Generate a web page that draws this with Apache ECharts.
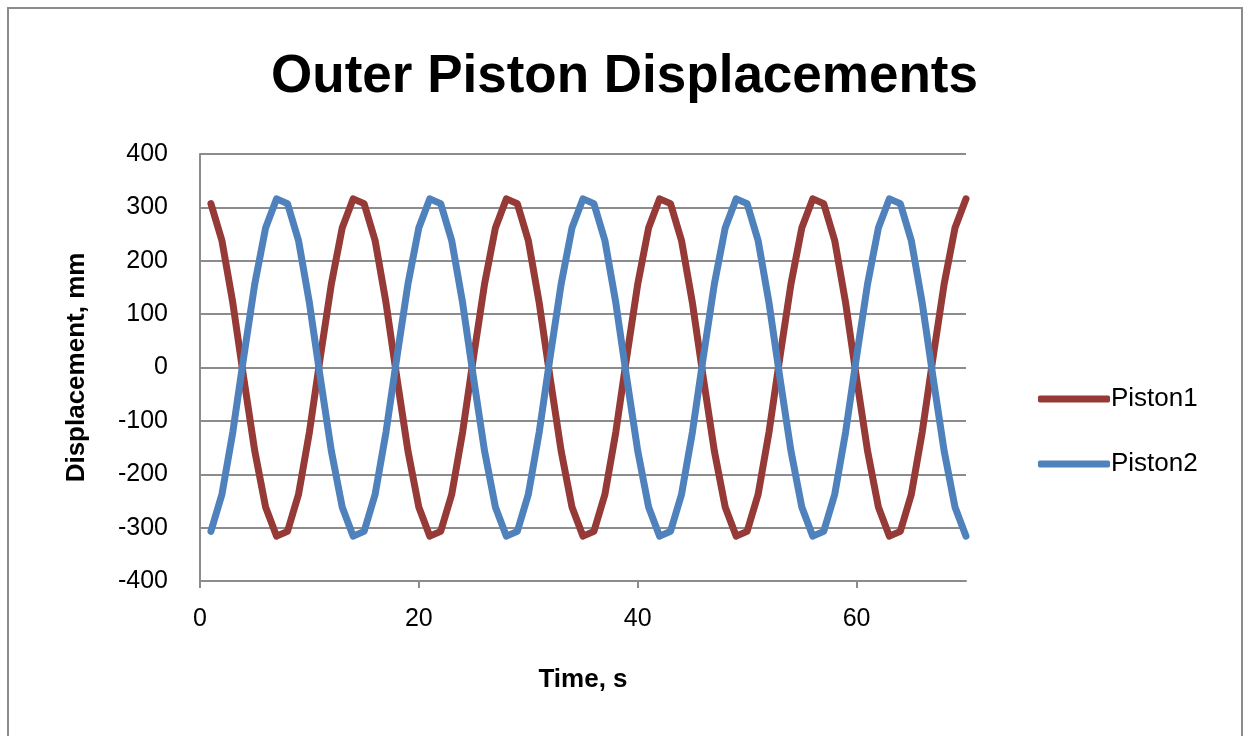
<!DOCTYPE html>
<html>
<head>
<meta charset="utf-8">
<title>Outer Piston Displacements</title>
<script src="https://cdn.jsdelivr.net/npm/echarts@6/dist/echarts.min.js"></script>
<style>
  html, body { margin: 0; padding: 0; background: #fff; }
  #chart { width: 1249px; height: 736px; }
</style>
</head>
<body>
<div id="chart"></div>
<script>
// time, s
const time = [
  1, 2, 3, 4, 5, 6, 7, 8, 9, 10, 11, 12, 13, 14,
  15, 16, 17, 18, 19, 20, 21, 22, 23, 24, 25, 26, 27, 28,
  29, 30, 31, 32, 33, 34, 35, 36, 37, 38, 39, 40, 41, 42,
  43, 44, 45, 46, 47, 48, 49, 50, 51, 52, 53, 54, 55, 56,
  57, 58, 59, 60, 61, 62, 63, 64, 65, 66, 67, 68, 69, 70
]
// displacement, mm
const piston1 = [
  307, 238, 121, -20, -156, -262, -316, -307, -238, -121, 20, 156, 262, 316,
  307, 238, 121, -20, -156, -262, -316, -307, -238, -121, 20, 156, 262, 316,
  307, 238, 121, -20, -156, -262, -316, -307, -238, -121, 20, 156, 262, 316,
  307, 238, 121, -20, -156, -262, -316, -307, -238, -121, 20, 156, 262, 316,
  307, 238, 121, -20, -156, -262, -316, -307, -238, -121, 20, 156, 262, 316
]
const piston2 = [
  -307, -238, -121, 20, 156, 262, 316, 307, 238, 121, -20, -156, -262, -316,
  -307, -238, -121, 20, 156, 262, 316, 307, 238, 121, -20, -156, -262, -316,
  -307, -238, -121, 20, 156, 262, 316, 307, 238, 121, -20, -156, -262, -316,
  -307, -238, -121, 20, 156, 262, 316, 307, 238, 121, -20, -156, -262, -316,
  -307, -238, -121, 20, 156, 262, 316, 307, 238, 121, -20, -156, -262, -316
]
const xTicks = [0, 20, 40, 60]

const font = '"Liberation Sans", Arial, sans-serif'
const gray = '#8c8c8c'

var myChart = echarts.init(document.getElementById('chart'))
myChart.setOption({
  backgroundColor: '#fff',
  animation: false,
  graphic: [
    {
      type: 'rect',
      shape: { x: 8, y: 8, width: 1234, height: 800 },
      style: { fill: 'none', stroke: gray, lineWidth: 2 }
    }
  ],
  title: {
    text: 'Outer Piston Displacements',
    left: 'center',
    top: 46,
    textStyle: { fontFamily: font, fontWeight: 'bold', fontSize: 53, color: '#000' }
  },
  legend: {
    orient: 'vertical',
    left: 1033,
    top: 381,
    icon: 'roundRect',
    itemWidth: 72,
    itemHeight: 7,
    itemGap: 39,
    textStyle: { fontFamily: font, fontSize: 26, color: '#000', padding: [0, 0, 0, -4] },
    data: ['Piston1', 'Piston2']
  },
  grid: { left: 200, right: 283, top: 154, bottom: 155 },
  xAxis: {
    type: 'value',
    min: 0,
    max: 70,
    interval: 20,
    name: 'Time, s',
    nameLocation: 'middle',
    nameGap: 86,
    nameTextStyle: { fontFamily: font, fontWeight: 'bold', fontSize: 26, color: '#000' },
    axisLine: { show: true, onZero: false, lineStyle: { color: gray, width: 2 } },
    axisTick: { show: true, length: 7, lineStyle: { color: gray, width: 2 }, customValues: xTicks },
    axisLabel: { fontFamily: font, fontSize: 25, color: '#000', margin: 26, customValues: xTicks },
    splitLine: { show: false }
  },
  yAxis: {
    type: 'value',
    min: -400,
    max: 400,
    interval: 100,
    name: 'Displacement, mm',
    nameLocation: 'middle',
    nameGap: 110,
    nameTextStyle: { fontFamily: font, fontWeight: 'bold', fontSize: 26, color: '#000' },
    axisLine: { show: true, onZero: false, lineStyle: { color: gray, width: 2 } },
    axisTick: { show: false },
    axisLabel: { fontFamily: font, fontSize: 25, color: '#000', margin: 32 },
    splitLine: { show: true, lineStyle: { color: gray, width: 2 } }
  },
  series: [
    {
      name: 'Piston1',
      type: 'line',
      symbol: 'none',
      color: '#953a37',
      lineStyle: { width: 7, color: '#953a37', cap: 'round', join: 'round' },
      data: time.map((t, i) => [t, piston1[i]])
    },
    {
      name: 'Piston2',
      type: 'line',
      symbol: 'none',
      color: '#4f81bd',
      lineStyle: { width: 7, color: '#4f81bd', cap: 'round', join: 'round' },
      data: time.map((t, i) => [t, piston2[i]])
    }
  ]
})
</script>
</body>
</html>
